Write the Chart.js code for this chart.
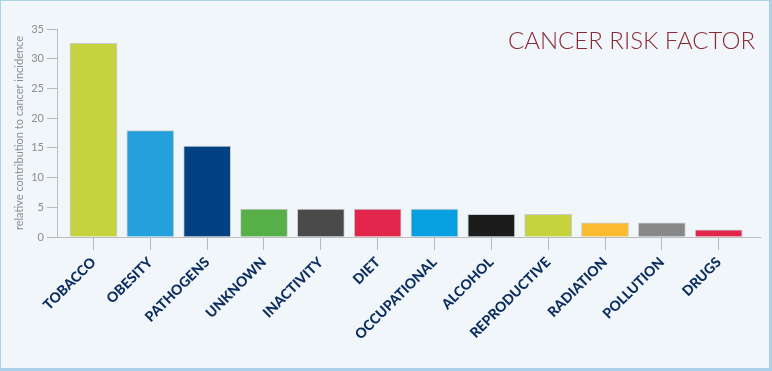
<!DOCTYPE html>
<html>
<head>
<meta charset="utf-8">
<script src="https://cdn.jsdelivr.net/npm/chart.js@4/dist/chart.umd.min.js"></script>
<style>
  html, body { margin: 0; padding: 0; background: #f1f6fb; }
  #wrap { position: relative; width: 772px; height: 371px; overflow: hidden; background: #f1f6fb; }
  #c { position: absolute; left: 0; top: 0; }
  #frame { position: absolute; left: 0; top: 0; width: 772px; height: 371px; box-sizing: border-box;
           border-style: solid; border-color: #aad0ea; border-width: 1px 3px 3px 1px; pointer-events: none; }
  #title { position: absolute; right: 17px; top: 28px; font-family: Lato, sans-serif; font-size: 24px;
           font-weight: 300; line-height: 1; color: #8b2a35; letter-spacing: 0; white-space: nowrap; }
</style>
</head>
<body>
<div id="wrap">
  <canvas id="c" width="772" height="371"></canvas>
  <div id="title">CANCER RISK FACTOR</div>
  <div id="frame"></div>
</div>
<script>
const categories = ["TOBACCO", "OBESITY", "PATHOGENS", "UNKNOWN", "INACTIVITY", "DIET",
                    "OCCUPATIONAL", "ALCOHOL", "REPRODUCTIVE", "RADIATION", "POLLUTION", "DRUGS"];
const values = [32.6, 17.9, 15.3, 4.7, 4.7, 4.7, 4.7, 3.8, 3.8, 2.4, 2.4, 1.2];
const barColors = ["#c5d33f", "#24a1dc", "#034182", "#56b047", "#4a4a4a", "#e2264b",
                   "#069fdf", "#1c1c1c", "#c5d33f", "#fbbc2f", "#888888", "#e2264b"];
const yTicks = [0, 5, 10, 15, 20, 25, 30, 35];
const yTitle = "relative contribution to cancer incidence";

const points = values.map((v, i) => ({ x: i, y: v }));

new Chart(document.getElementById('c'), {
  type: 'bar',
  data: {
    datasets: [{
      data: points,
      backgroundColor: barColors,
      borderColor: "#c9cdd2",
      borderWidth: 1,
      barThickness: 47
    }]
  },
  options: {
    responsive: false,
    animation: false,
    layout: { padding: { top: 29, right: 12, bottom: 0, left: 0 } },
    plugins: { legend: { display: false }, tooltip: { enabled: false } },
    scales: {
      x: {
        type: 'linear',
        offset: false,
        min: -0.642,
        max: 11.727,
        afterBuildTicks: (scale) => { scale.ticks = categories.map((_, i) => ({ value: i })); },
        afterFit: (scale) => { scale.height = 371 - 237; },
        grid: { display: true, offset: false, drawOnChartArea: false, tickLength: 13, color: "#b9b9b9", lineWidth: 1 },
        border: { display: true, color: "#bdbdbd", width: 1 },
        ticks: {
          autoSkip: false,
          minRotation: 45,
          maxRotation: 45,
          padding: 4,
          color: "#0b2d5e",
          font: { family: "Lato, sans-serif", size: 14, weight: 900 },
          callback: (v) => categories[v] !== undefined ? categories[v] : ""
        }
      },
      y: {
        min: 0,
        max: 35,
        afterBuildTicks: (scale) => { scale.ticks = yTicks.map(v => ({ value: v })); },
        afterFit: (scale) => { scale.width = 57; },
        grid: { display: true, drawOnChartArea: false, tickLength: 10, color: "#b9b9b9", lineWidth: 1 },
        border: { display: true, color: "#bdbdbd", width: 1 },
        ticks: { padding: 3, color: "#8c8c8c", font: { family: "Lato, sans-serif", size: 11 } },
        title: {
          display: true,
          text: yTitle,
          color: "#8c8c8c",
          font: { family: "Lato, sans-serif", size: 11 },
          padding: { top: 13, bottom: 0 }
        }
      }
    }
  }
});
</script>
</body>
</html>
